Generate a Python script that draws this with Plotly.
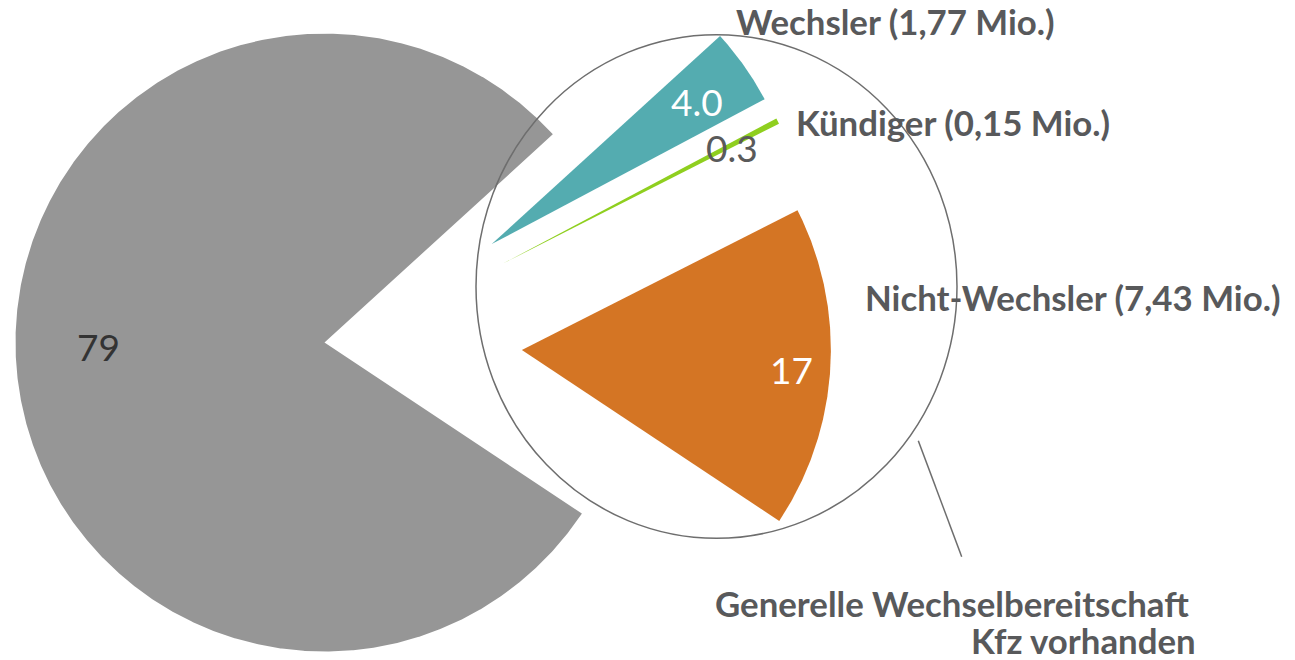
import numpy as np
import plotly.graph_objects as go

# ---------------- data ----------------
categories = ["Nicht-Wechsler", "Kündiger", "Wechsler", "Übrige"]
shares_pct = [16.8, 0.3, 4.0, 78.9]          # Anteil in %
millions = ["7,43", "0,15", "1,77", ""]       # Personen in Mio.
group_lines = ["Generelle Wechselbereitschaft", "Kfz vorhanden"]

# ---------------- style ----------------
W, H = 1295, 660
colors = ["#D47524", "#8FCF1F", "#54ACB0", "#969696"]
value_colors = ["#FFFFFF", "#5A5A5A", "#FFFFFF", "#333333"]
pulls = [0.54, 0.54, 0.54, 0.10]            # explosion (fraction of radius)
CX, CY, R = 355.3, 340.2, 309.0             # pie centre / radius in page pixels
START = -33.6                               # start angle of first slice (deg, ccw)
label_r = [0.876, 0.83, 0.81, 0.73]
label_dang = [-0.8, -0.5, -0.3, -3.5]
cat_xy = [(863, 297.5), (794, 122.5), (734, 21), None]   # left, middle
group_xy = [(1191, 603), (1198, 640)]                      # right, middle
TXT = "#58595B"
CAT_FONT = dict(family="Lato", size=34.8, color=TXT, weight="bold")
VAL_FONT = "Lato"
VAL_SIZE = 37

fig = go.Figure()
total = sum(shares_pct)
angle = START
for i, v in enumerate(shares_pct):
    span = v / total * 360.0
    a0, a1 = angle, angle + span
    angle = a1
    mid = (a0 + a1) / 2.0
    ax = CX + pulls[i] * R * np.cos(np.radians(mid))
    ay = CY - pulls[i] * R * np.sin(np.radians(mid))
    t = np.radians(np.linspace(a0, a1, max(int(span * 4), 8)))
    xs = np.concatenate([[ax], ax + R * np.cos(t), [ax]])
    ys = np.concatenate([[ay], ay - R * np.sin(t), [ay]])
    fig.add_trace(go.Scatter(
        x=xs, y=ys, mode="lines", fill="toself", fillcolor=colors[i],
        line=dict(width=0, color=colors[i]), name=categories[i],
        hoverinfo="name", showlegend=False))
    la = np.radians(mid + label_dang[i])
    lx = ax + label_r[i] * R * np.cos(la)
    ly = ay - label_r[i] * R * np.sin(la)
    txt = f"{v:.0f}" if v >= 10 else f"{v:.1f}"
    fig.add_annotation(x=lx, y=ly, text=txt, showarrow=False,
                       font=dict(family=VAL_FONT, size=VAL_SIZE, color=value_colors[i]),
                       xanchor="center", yanchor="middle")
    if cat_xy[i] is not None:
        fig.add_annotation(x=cat_xy[i][0], y=cat_xy[i][1],
                           text=f"{categories[i]} ({millions[i]} Mio.)",
                           showarrow=False, font=CAT_FONT,
                           xanchor="left", yanchor="middle")

for line, (gx, gy) in zip(group_lines, group_xy):
    fig.add_annotation(x=gx, y=gy, text=line, showarrow=False, font=CAT_FONT,
                       xanchor="right", yanchor="middle")

# circle around the exploded segments and leader line
fig.add_shape(type="circle", xref="x", yref="y", x0=476, x1=957, y0=34.7, y1=538.3,
              line=dict(color="#6E6E6E", width=1.5))
fig.add_shape(type="line", xref="x", yref="y", x0=918.3, y0=440.7, x1=961.7, y1=556.7,
              line=dict(color="#6E6E6E", width=1.5))

fig.update_xaxes(range=[0, W], visible=False, showgrid=False, zeroline=False)
fig.update_yaxes(range=[H, 0], visible=False, showgrid=False, zeroline=False)
fig.update_layout(width=W, height=H, margin=dict(l=0, r=0, t=0, b=0),
                  paper_bgcolor="white", plot_bgcolor="white", showlegend=False)

fig.write_html("out.html", config={"displayModeBar": False},
               post_script="document.body.style.margin='0';")
